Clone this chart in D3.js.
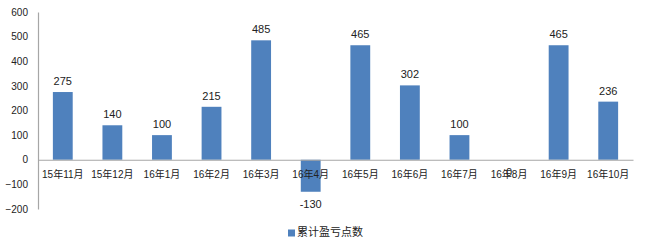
<!DOCTYPE html>
<html>
<head>
<meta charset="utf-8">
<script src="https://cdn.jsdelivr.net/npm/d3@7"></script>
<style>
  html, body { margin: 0; padding: 0; background: #fff; }
  svg { display: block; }
  text { font-family: "Liberation Sans", Arial, "Noto Sans CJK SC", sans-serif; fill: #222; }
</style>
</head>
<body>
<svg id="chart" width="648" height="245"></svg>
<script>
// Monthly cumulative profit/loss points
const categories = ["15年11月", "15年12月", "16年1月", "16年2月", "16年3月", "16年4月",
                    "16年5月", "16年6月", "16年7月", "16年8月", "16年9月", "16年10月"];
const values = [275, 140, 100, 215, 485, -130, 465, 302, 100, 0, 465, 236];
const yTicks = [600, 500, 400, 300, 200, 100, 0, -100, -200];
const seriesName = "累计盈亏点数";

const svg = d3.select("#chart");
const plotLeft = 38, plotRight = 633, plotTop = 12, plotBottom = 209;

const x = d3.scaleBand().domain(categories).range([plotLeft, plotRight]).paddingInner(0.6).paddingOuter(0.3);
const y = d3.scaleLinear().domain([-200, 600]).range([plotBottom, plotTop]);

// Y axis: labels only, plus a plain vertical line
const yAxis = d3.axisLeft(y).tickValues(yTicks).tickSize(0).tickPadding(10);
const gy = svg.append("g").attr("transform", `translate(${plotLeft},0)`).call(yAxis);
gy.select(".domain").attr("stroke", "#a6a6a6").attr("stroke-width", 1.2);
gy.selectAll("text").style("font-size", "10px").attr("fill", "#222");

// Bars
svg.append("g").selectAll("rect")
  .data(values)
  .join("rect")
  .attr("x", (d, i) => x(categories[i]))
  .attr("width", x.bandwidth())
  .attr("y", d => y(Math.max(0, d)))
  .attr("height", d => Math.abs(y(d) - y(0)))
  .attr("fill", "#4f81bd");

// Zero baseline with category labels below it
const xAxis = d3.axisBottom(x).tickSize(0).tickPadding(11);
const gx = svg.append("g").attr("transform", `translate(0,${y(0)})`).call(xAxis);
gx.select(".domain").attr("stroke", "#a6a6a6").attr("stroke-width", 1.2);
gx.selectAll("text").style("font-size", "10px").attr("fill", "#222");

// Value labels: above positive bars, below negative / zero bars
svg.append("g").selectAll("text")
  .data(values)
  .join("text")
  .attr("x", (d, i) => x(categories[i]) + x.bandwidth() / 2)
  .attr("y", d => d > 0 ? y(d) - 10 : y(d) + 13)
  .attr("dominant-baseline", "middle")
  .attr("text-anchor", "middle")
  .style("font-size", "11px")
  .text(d => d);

// Legend
const lg = svg.append("g").attr("transform", "translate(288,233)");
lg.append("rect").attr("x", 0).attr("y", -3.5).attr("width", 7).attr("height", 7).attr("fill", "#4f81bd");
lg.append("text").attr("x", 9).attr("y", 0).attr("dominant-baseline", "middle")
  .style("font-size", "11px").text(seriesName);
</script>
</body>
</html>
